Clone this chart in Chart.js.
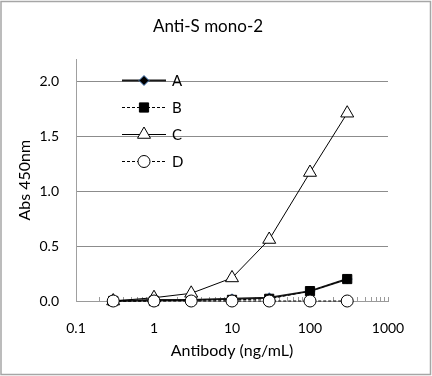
<!DOCTYPE html>
<html><head><meta charset="utf-8">
<script src="https://cdn.jsdelivr.net/npm/chart.js@4"></script>
<style>html,body{margin:0;padding:0;background:#fff}#wrap{width:432px;height:376px}</style>
</head><body><div id="wrap"><canvas id="c" width="432" height="376"></canvas></div>
<script>
const concentrations = [0.3, 1, 3, 10, 30, 100, 300];
const seriesA = [0.00, 0.01, 0.01, 0.02, 0.03, 0.09, 0.20];
const seriesB = [0.00, 0.00, 0.01, 0.01, 0.02, 0.09, 0.20];
const seriesC = [0.00, 0.03, 0.07, 0.21, 0.56, 1.17, 1.71];
const seriesD = [0.00, 0.00, 0.00, 0.00, 0.00, 0.00, 0.00];
const seriesNames = ['A', 'B', 'C', 'D'];
const xTickValues = [0.1,0.2,0.3,0.4,0.5,0.6,0.7,0.8,0.9,1,2,3,4,5,6,7,8,9,10,20,30,40,50,60,70,80,90,100,200,300,400,500,600,700,800,900,1000];
const xMajorTicks = [0.1, 1, 10, 100, 1000];
const yTickValues = [0, 0.5, 1.0, 1.5, 2.0];
const chartTitle = 'Anti-S mono-2';
const xTitle = 'Antibody (ng/mL)';
const yTitle = 'Abs 450nm';

const FONT = 'Lato, "Open Sans", sans-serif';
const pts = s => concentrations.map((x, i) => ({x: x, y: s[i]}));

const frame = {
  id: 'frame',
  beforeDraw(chart) {
    const c = chart.ctx;
    c.save();
    c.fillStyle = '#fff';
    c.fillRect(0, 0, chart.width, chart.height);
    c.strokeStyle = '#a6a6a6';
    c.lineWidth = 1.5;
    c.strokeRect(1, 1.5, chart.width - 2.5, chart.height - 3);
    c.restore();
  }
};

const minorTicks = {
  id: 'minorTicks',
  beforeDatasetsDraw(chart) {
    const s = chart.scales.x, c = chart.ctx, b = chart.chartArea.bottom;
    c.save();
    c.strokeStyle = '#9a9a9a';
    c.lineWidth = 1;
    s.ticks.forEach(t => {
      if (t.value <= s.min) return;
      const px = Math.round(s.getPixelForValue(t.value)) + 0.5;
      c.beginPath();
      c.moveTo(px, b);
      c.lineTo(px, b - 4);
      c.stroke();
    });
    c.restore();
  }
};

const lineLegend = {
  id: 'lineLegend',
  afterDraw(chart) {
    const c = chart.ctx, a = chart.chartArea;
    c.save();
    chart.data.datasets.forEach((ds, i) => {
      const y = Math.round(a.top + 21 + i * 27) + 0.5;
      const x0 = a.left + 46, x1 = a.left + 90, xm = (x0 + x1) / 2;
      c.beginPath();
      c.setLineDash(ds.borderDash || []);
      c.strokeStyle = ds.borderColor;
      c.lineWidth = ds.borderWidth;
      c.moveTo(x0, y); c.lineTo(x1, y); c.stroke();
      c.setLineDash([]);
      c.fillStyle = ds.pointBackgroundColor;
      c.strokeStyle = ds.pointBorderColor;
      c.lineWidth = ds.pointBorderWidth;
      Chart.helpers.drawPoint(c, {pointStyle: ds.pointStyle, radius: ds.pointRadius, borderWidth: ds.pointBorderWidth, rotation: 0}, xm, y);
      c.fillStyle = '#000';
      c.font = '15px ' + FONT;
      c.textBaseline = 'middle';
      c.textAlign = 'left';
      c.fillText(ds.label, x1 + 6, y + 1);
    });
    c.restore();
  }
};

new Chart(document.getElementById('c'), {
  type: 'line',
  data: {
    datasets: [
      {label: seriesNames[0], data: pts(seriesA), borderColor: '#1a1a1a', borderWidth: 2,
       pointStyle: 'rectRot', pointRadius: 5, pointBackgroundColor: '#000', pointBorderColor: '#4f81bd', pointBorderWidth: 1, order: 4, clip: false},
      {label: seriesNames[1], data: pts(seriesB), borderColor: '#000', borderWidth: 1, borderDash: [3, 2],
       pointStyle: 'rect', pointRadius: 6.5, pointBackgroundColor: '#000', pointBorderColor: '#000', pointBorderWidth: 1, order: 3, clip: false},
      {label: seriesNames[2], data: pts(seriesC), borderColor: '#000', borderWidth: 1,
       pointStyle: 'triangle', pointRadius: 7.5, pointBackgroundColor: '#fff', pointBorderColor: '#000', pointBorderWidth: 1, order: 2, clip: false},
      {label: seriesNames[3], data: pts(seriesD), borderColor: '#000', borderWidth: 1, borderDash: [3, 2],
       pointStyle: 'circle', pointRadius: 6, pointBackgroundColor: '#fff', pointBorderColor: '#000', pointBorderWidth: 1, order: 1, clip: false}
    ]
  },
  options: {
    responsive: false,
    animation: false,
    devicePixelRatio: 1,
    layout: {padding: {left: 28, right: 44, top: 10, bottom: 8}},
    plugins: {
      legend: {display: false},
      tooltip: {enabled: false},
      title: {display: true, text: chartTitle, color: '#000', font: {family: FONT, size: 17, weight: 'normal'}, padding: {top: 6, bottom: 23}}
    },
    scales: {
      x: {
        type: 'logarithmic', min: 0.1, max: 1000,
        afterBuildTicks: s => { s.ticks = xTickValues.map(v => ({value: v, major: xMajorTicks.includes(v)})); },
        afterFit: s => { s.height = 67; },
        ticks: {autoSkip: false, maxRotation: 0, color: '#000', padding: 19, font: {family: FONT, size: 14},
                callback: v => xMajorTicks.includes(v) ? String(v) : ''},
        grid: {display: true, drawOnChartArea: false, drawTicks: false},
        border: {display: true, color: '#9a9a9a', width: 1},
        title: {display: true, text: xTitle, color: '#000', font: {family: FONT, size: 16}, padding: {top: 4, bottom: 8}}
      },
      y: {
        min: 0, max: 2.2,
        afterBuildTicks: s => { s.ticks = yTickValues.map(v => ({value: v})); },
        afterFit: s => { s.width = 48; },
        ticks: {color: '#000', padding: 17, font: {family: FONT, size: 14}, callback: v => Number(v).toFixed(1)},
        grid: {color: '#8c8c8c', lineWidth: 1, drawTicks: false},
        border: {display: true, color: '#a0a0a0', width: 1},
        title: {display: true, text: yTitle, color: '#000', font: {family: FONT, size: 16}, padding: {top: -13, bottom: 4}}
      }
    }
  },
  plugins: [frame, minorTicks, lineLegend]
});
</script>
</body></html>
